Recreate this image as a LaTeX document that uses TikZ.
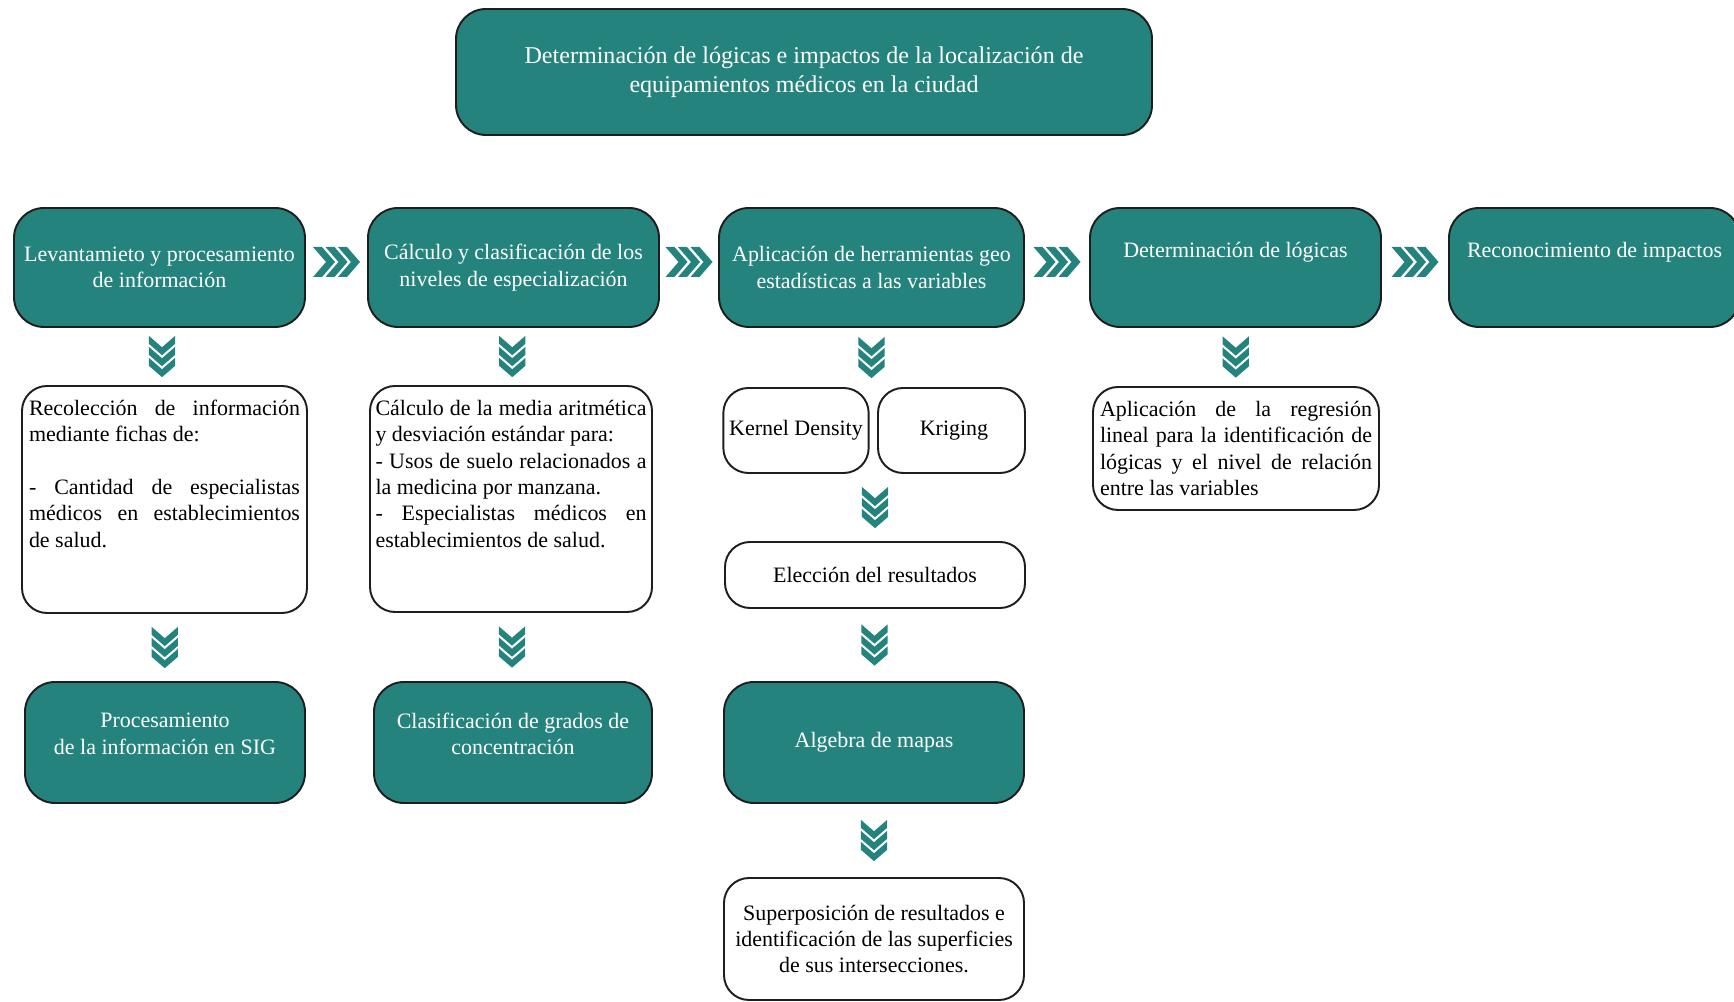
\documentclass[tikz,border=0pt]{standalone}
\usepackage{fontspec}
\setmainfont{Liberation Serif}
\usetikzlibrary{calc}
\definecolor{tealbox}{RGB}{36,131,125}
\definecolor{edge}{RGB}{30,30,30}
\hyphenpenalty=10000
\exhyphenpenalty=10000
\tolerance=9999

\begin{document}
\begin{tikzpicture}[
    stage/.style={
        draw=edge,
        line width=1.1pt,
        fill=tealbox,
        rounded corners=6mm,
        text=white,
        align=center,
        font=\fontsize{12.5}{15}\selectfont,
        minimum width=58.2mm,
        minimum height=23.8mm
    },
    task/.style={
        draw=edge,
        line width=1.1pt,
        fill=white,
        rounded corners=5mm,
        align=center,
        font=\fontsize{12.5}{15}\selectfont
    },
    notes/.style={
        task,
        align=justify,
        text width=54.2mm,
        inner xsep=1.4mm,
        inner ysep=1.4mm,
        text height=4.5mm
    },
    chevrons/.pic={
        \foreach \k in {0,2.5,5}
            \fill[tealbox, xshift=\k mm] (-4.7mm,3mm) -- (-2.9mm,3mm) -- (-0.3mm,0mm)
                -- (-2.9mm,-3mm) -- (-4.7mm,-3mm) -- (-2.1mm,0mm) -- cycle;
    },
    across/.style={yshift=1.1mm},
    downward/.style={rotate=-90, scale=0.88}
]

\useasboundingbox (0,0) rectangle (34.68,20.04);

\node[stage, minimum width=139.2mm, minimum height=25.2mm, font=\fontsize{13.7}{16.4}\selectfont] (objetivo) at (16.08, 18.60) {
Determinación de lógicas e impactos de la localización de\\
equipamientos médicos en la ciudad
};

\node[stage] (levantamiento) at (3.19, 14.69) {Levantamieto y procesamiento\\de información};
\node[stage] (calculo) at (10.27, 14.69) {Cálculo y clasificación de los\\niveles de especialización};
\node[stage, minimum width=61mm] (herramientas) at (17.43, 14.69) {Aplicación de herramientas geo\\estadísticas a las variables};
\node[stage] (logicas) at (24.71, 14.69) {Determinación de lógicas\\\strut};
\node[stage] (impactos) at (31.89, 14.69) {Reconocimiento de impactos\\\strut};

\node[notes, text depth=38.1mm] (recoleccion) at (3.29, 10.05) {
Recolección de información mediante fichas de:\newline\mbox{}\newline
- Cantidad de especialistas médicos en establecimientos de salud.
};

\node[notes, inner xsep=1.1mm, text depth=37.9mm] (media) at (10.22, 10.06) {
Cálculo de la media aritmética y desviación estándar para:\newline
- Usos de suelo relacionados a la medicina por manzana.\newline
- Especialistas médicos en establecimientos de salud.
};

\node[task, minimum width=28.8mm, minimum height=17mm] (kernel) at (15.92, 11.43) {Kernel Density};
\node[task, minimum width=29.4mm, minimum height=17mm] (kriging) at (19.03, 11.43) {\hspace{1mm}Kriging};
\node[task, minimum width=60mm, minimum height=13.2mm] (eleccion) at (17.50, 8.54) {Elección del resultados};

\node[notes, text width=54.4mm, text depth=17.3mm] (regresion) at (24.72, 11.07) {
Aplicación de la regresión lineal para la identificación de lógicas y el nivel de relación entre las variables
};

\node[stage, minimum width=56mm, minimum height=24.2mm] (sig) at (3.30, 5.19) {Procesamiento\\de la información en SIG\\[-1.7mm]\mbox{}};
\node[stage, minimum width=55.6mm, minimum height=24.2mm] (grados) at (10.26, 5.19) {Clasificación de grados de\\concentración\\[-1.7mm]\mbox{}};
\node[stage, minimum width=60mm, minimum height=24.2mm] (algebra) at (17.48, 5.19) {Algebra de mapas};
\node[task, minimum width=60mm, minimum height=24.4mm] (superposicion) at (17.48, 1.26) {
Superposición de resultados e\\
identificación de las superficies\\
de sus intersecciones.
};

\pic[across] at ($(levantamiento.east)!0.5!(calculo.west)$) {chevrons};
\pic[across] at ($(calculo.east)!0.5!(herramientas.west)$) {chevrons};
\pic[across] at ($(herramientas.east)!0.5!(logicas.west)$) {chevrons};
\pic[across] at ($(logicas.east)!0.5!(impactos.west)$) {chevrons};

\pic[downward] at ($(levantamiento.south)!0.5!(recoleccion.north)$) {chevrons};
\pic[downward] at ($(calculo.south)!0.5!(media.north)$) {chevrons};
\pic[downward] at ($(herramientas.south)!0.5!(herramientas.south |- kernel.north)$) {chevrons};
\pic[downward] at ($(logicas.south)!0.5!(regresion.north)$) {chevrons};
\pic[downward] at ($(eleccion.north)!0.5!(eleccion.north |- kernel.south)$) {chevrons};
\pic[downward] at ($(recoleccion.south)!0.5!(sig.north)$) {chevrons};
\pic[downward] at ($(media.south)!0.5!(grados.north)$) {chevrons};
\pic[downward] at ($(eleccion.south)!0.5!(algebra.north)$) {chevrons};
\pic[downward] at ($(algebra.south)!0.5!(superposicion.north)$) {chevrons};

\end{tikzpicture}
\end{document}
